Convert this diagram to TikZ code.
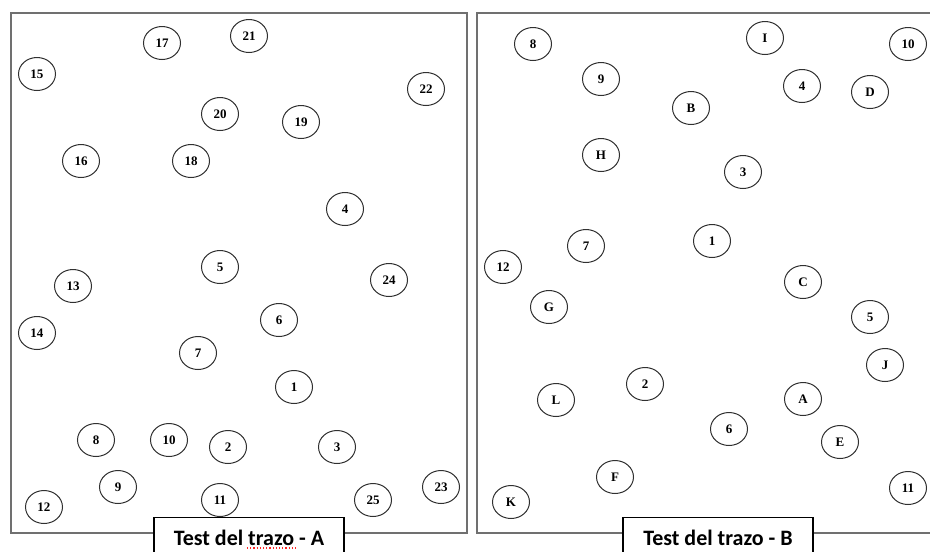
\documentclass[tikz,border=0pt]{standalone}
\usepackage{fontspec}
\usepackage{tikz}
\usetikzlibrary{shapes.geometric}
\setmainfont{Liberation Serif}
\newfontfamily\tagfont{Carlito}
\definecolor{framegray}{HTML}{707070}
\definecolor{ringgray}{HTML}{303030}

\begin{document}
\begin{tikzpicture}[x=1pt, y=-1pt,
    spot/.style={draw=ringgray, line width=1pt, ellipse, minimum width=37pt, minimum height=33pt, inner sep=0pt, font=\fontsize{13}{13}\selectfont\bfseries},
    tag/.style={draw=black, line width=1.1pt, fill=white, anchor=north, minimum width=190pt, minimum height=40pt, inner sep=0pt, font=\tagfont\fontsize{22}{22}\selectfont\bfseries}]
    \useasboundingbox (0,0) rectangle (930,552);

    % panel A
    \draw[framegray, line width=1.3pt] (11,13) rectangle (467,533);
    \node[spot] (a17) at (162,43) {17};
    \node[spot] (a21) at (249,36) {21};
    \node[spot] (a15) at (37,74) {15};
    \node[spot] (a22) at (426,89) {22};
    \node[spot] (a20) at (220,114) {20};
    \node[spot] (a19) at (301,122) {19};
    \node[spot] (a16) at (81,161) {16};
    \node[spot] (a18) at (191,161) {18};
    \node[spot] (a4) at (345,209) {4};
    \node[spot] (a5) at (220,267) {5};
    \node[spot] (a24) at (389,280) {24};
    \node[spot] (a13) at (73,286) {13};
    \node[spot] (a14) at (37,333) {14};
    \node[spot] (a6) at (279,320) {6};
    \node[spot] (a7) at (198,353) {7};
    \node[spot] (a1) at (294,387) {1};
    \node[spot] (a8) at (96,440) {8};
    \node[spot] (a10) at (169,440) {10};
    \node[spot] (a2) at (228,447) {2};
    \node[spot] (a3) at (337,447) {3};
    \node[spot] (a9) at (118,487) {9};
    \node[spot] (a23) at (441,487) {23};
    \node[spot] (a11) at (220,500) {11};
    \node[spot] (a25) at (373,500) {25};
    \node[spot] (a12) at (44,507) {12};
    \node[tag] (tagA) at (249,517) {Test del trazo - A};
    \draw[red!85, dotted, line width=1.2pt] (247,548) -- (298,548);

    % panel B (open on the right)
    \draw[framegray, line width=1.3pt] (930,13) -- (477,13) -- (477,533) -- (930,533);
    \node[spot] (b8) at (533,44) {8};
    \node[spot] (bI) at (765,38) {I};
    \node[spot] (b10) at (908,44) {10};
    \node[spot] (b9) at (601,79) {9};
    \node[spot] (b4) at (802,86) {4};
    \node[spot] (bD) at (870,92) {D};
    \node[spot] (bB) at (691,108) {B};
    \node[spot] (bH) at (601,155) {H};
    \node[spot] (b3) at (743,172) {3};
    \node[spot] (b7) at (586,246) {7};
    \node[spot] (b1) at (712,241) {1};
    \node[spot] (b12) at (503,267) {12};
    \node[spot] (bC) at (803,282) {C};
    \node[spot] (bG) at (549,307) {G};
    \node[spot] (b5) at (870,317) {5};
    \node[spot] (bJ) at (885,365) {J};
    \node[spot] (bL) at (556,400) {L};
    \node[spot] (b2) at (645,384) {2};
    \node[spot] (bA) at (803,399) {A};
    \node[spot] (b6) at (729,429) {6};
    \node[spot] (bE) at (840,442) {E};
    \node[spot] (bF) at (615,477) {F};
    \node[spot] (b11) at (908,488) {11};
    \node[spot] (bK) at (511,502) {K};
    \node[tag] (tagB) at (718,517) {Test del trazo - B};
\end{tikzpicture}
\end{document}
